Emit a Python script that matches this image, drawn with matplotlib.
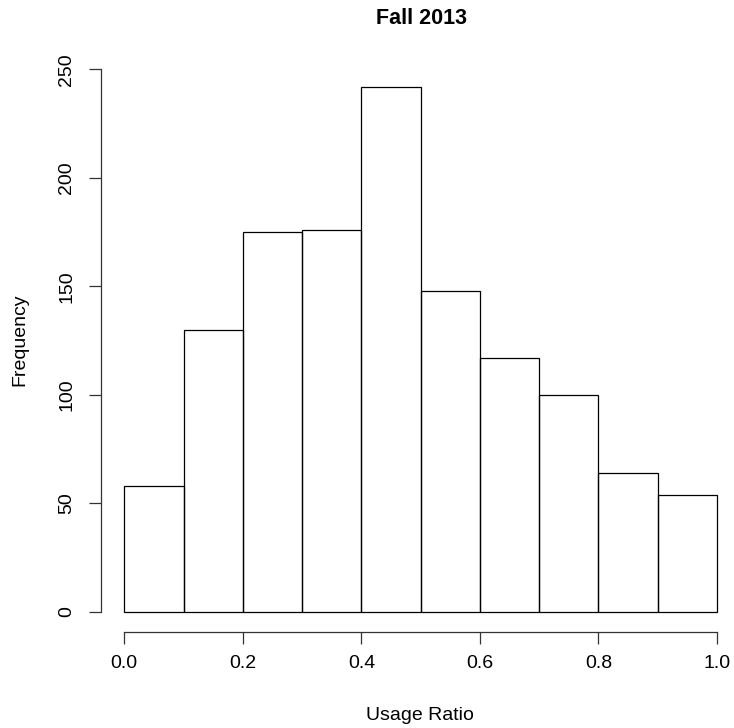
import numpy as np
import matplotlib.pyplot as plt

plt.rcParams["font.family"] = ["Liberation Sans", "DejaVu Sans"]

# histogram of usage ratio, Fall 2013
bin_edges = [0.0, 0.1, 0.2, 0.3, 0.4, 0.5, 0.6, 0.7, 0.8, 0.9, 1.0]
counts = [58, 130, 175, 176, 242, 148, 117, 100, 64, 54]
xticks = [0.0, 0.2, 0.4, 0.6, 0.8, 1.0]
yticks = [0, 50, 100, 150, 200, 250]

W, H = 734, 728
fig = plt.figure(figsize=(W / 100, H / 100), dpi=100)

# pixel layout of the plot region (R base graphics look)
x0_px, x1_px = 124.3, 717.0      # data 0 and 1
y0_px, y250_px = 611.7, 69.3     # data 0 and 250
L, R, T, B = 101, 733, 55, 631.7
ax = fig.add_axes([L / W, 1 - B / H, (R - L) / W, (B - T) / H])
sx = (x1_px - x0_px)
sy = (y0_px - y250_px) / 250
ax.set_xlim((L - x0_px) / sx, (R - x0_px) / sx)
ax.set_ylim((y0_px - B) / sy, (y0_px - T) / sy)

edges = np.array(bin_edges)
ax.bar(edges[:-1], counts, width=np.diff(edges), align="edge",
       fill=False, edgecolor="black", linewidth=0.9)

for s in ["top", "right"]:
    ax.spines[s].set_visible(False)
ax.spines["left"].set_bounds(0, 250)
ax.spines["bottom"].set_bounds(0, 1)
for s in ["left", "bottom"]:
    ax.spines[s].set_linewidth(0.9)
    ax.spines[s].set_color("#333333")

ax.set_xticks(xticks)
ax.set_xticklabels([f"{v:.1f}" for v in xticks])
ax.set_yticks(yticks)
ax.set_yticklabels([str(v) for v in yticks], rotation=90, va="center")
ax.tick_params(axis="both", direction="out", length=8.5, width=0.9,
               color="#333333", labelsize=14)
ax.tick_params(axis="x", pad=8)
ax.tick_params(axis="y", pad=10)

fig.text(421 / W, 1 - 18 / H, "Fall 2013", ha="center", va="center",
         fontsize=15.5, fontweight="bold")
fig.text(420 / W, 1 - 715 / H, "Usage Ratio", ha="center", va="center",
         fontsize=14)
fig.text(20 / W, 1 - 340 / H, "Frequency", ha="center", va="center",
         fontsize=14, rotation=90)

fig.savefig("out.png", dpi=100)
